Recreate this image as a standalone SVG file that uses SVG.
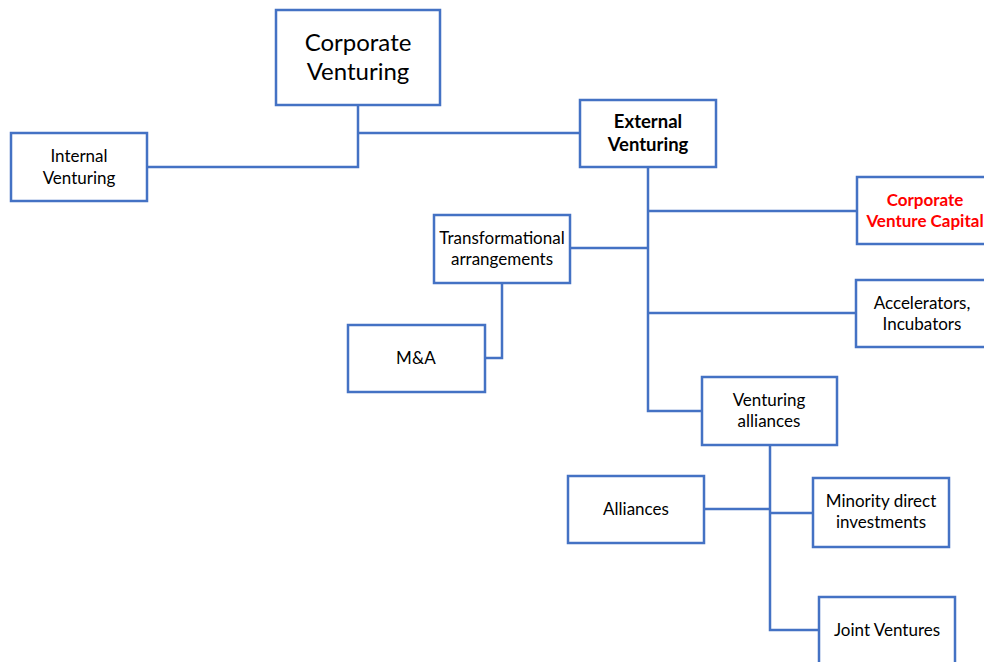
<svg xmlns="http://www.w3.org/2000/svg" width="984" height="662" viewBox="0 0 984 662">
  <style>
    .box { fill: #ffffff; stroke: #4472C4; stroke-width: 2.5; }
    .link { fill: none; stroke: #4472C4; stroke-width: 2.5; }
    text { font-family: Lato, "Liberation Sans", sans-serif; font-size: 17px; fill: #000000; text-anchor: middle; }
    .big { font-size: 24px; }
    .bold { font-weight: bold; font-size: 18.5px; }
    .red { fill: #ff0000; font-weight: bold; font-size: 17px; }
  </style>
  <rect width="984" height="662" fill="#ffffff"/>

  <!-- connectors -->
  <g id="connectors">
    <polyline class="link" points="358,105 358,167 147,167"/>
    <line class="link" x1="358" y1="133" x2="580" y2="133"/>
    <polyline class="link" points="648,167 648,411 702,411"/>
    <line class="link" x1="648" y1="211" x2="857" y2="211"/>
    <line class="link" x1="570" y1="248" x2="648" y2="248"/>
    <line class="link" x1="648" y1="313" x2="856" y2="313"/>
    <polyline class="link" points="502,283 502,358 485,358"/>
    <polyline class="link" points="770,445 770,630 819,630"/>
    <line class="link" x1="704" y1="509" x2="770" y2="509"/>
    <line class="link" x1="770" y1="513" x2="813" y2="513"/>
  </g>

  <g id="corporate-venturing">
    <rect class="box" x="276" y="10" width="164" height="95"/>
    <text class="big" x="358" y="51">Corporate</text>
    <text class="big" x="358" y="80">Venturing</text>
  </g>

  <g id="internal-venturing">
    <rect class="box" x="11" y="133" width="136" height="68"/>
    <text x="79" y="162">Internal</text>
    <text x="79" y="184">Venturing</text>
  </g>

  <g id="external-venturing">
    <rect class="box" x="580" y="100" width="136" height="67"/>
    <text class="bold" x="648" y="128">External</text>
    <text class="bold" x="648" y="151">Venturing</text>
  </g>

  <g id="corporate-venture-capital">
    <rect class="box" x="857" y="177" width="140" height="67"/>
    <text class="red" x="925" y="206">Corporate</text>
    <text class="red" x="925" y="227">Venture Capital</text>
  </g>

  <g id="accelerators-incubators">
    <rect class="box" x="856" y="280" width="140" height="67"/>
    <text x="922" y="309">Accelerators,</text>
    <text x="922" y="330">Incubators</text>
  </g>

  <g id="transformational-arrangements">
    <rect class="box" x="434" y="215" width="136" height="68"/>
    <text x="502" y="244">Transformational</text>
    <text x="502" y="265">arrangements</text>
  </g>

  <g id="m-and-a">
    <rect class="box" x="348" y="325" width="137" height="67"/>
    <text x="416" y="364">M&amp;A</text>
  </g>

  <g id="venturing-alliances">
    <rect class="box" x="702" y="377" width="135" height="68"/>
    <text x="769" y="406">Venturing</text>
    <text x="769" y="427">alliances</text>
  </g>

  <g id="alliances">
    <rect class="box" x="568" y="476" width="136" height="67"/>
    <text x="636" y="515">Alliances</text>
  </g>

  <g id="minority-direct-investments">
    <rect class="box" x="813" y="478" width="136" height="69"/>
    <text x="881" y="507">Minority direct</text>
    <text x="881" y="528">investments</text>
  </g>

  <g id="joint-ventures">
    <rect class="box" x="819" y="597" width="136" height="80"/>
    <text x="887" y="636">Joint Ventures</text>
  </g>
</svg>
